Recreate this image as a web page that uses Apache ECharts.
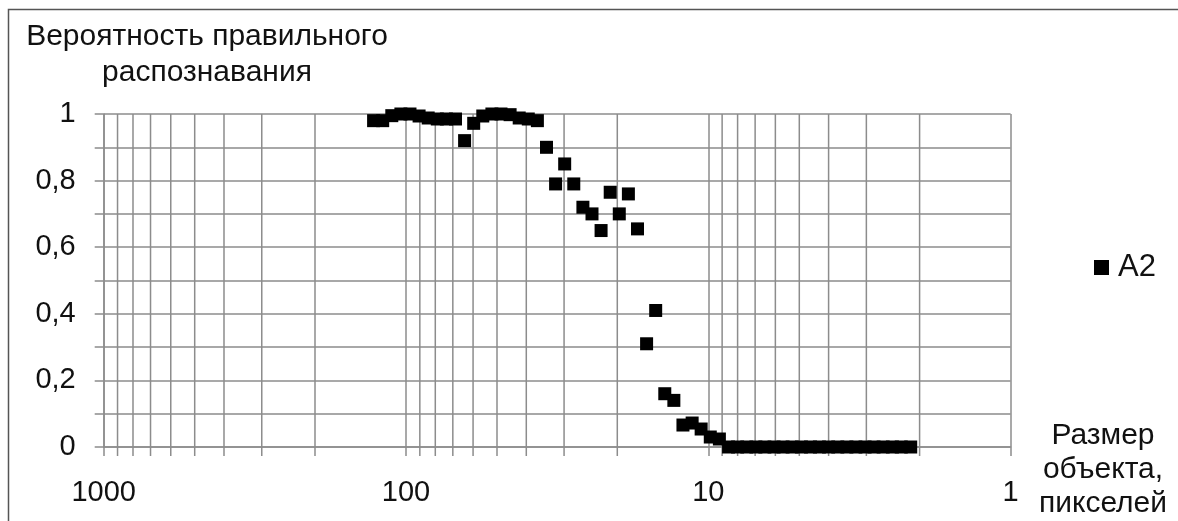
<!DOCTYPE html>
<html>
<head>
<meta charset="utf-8">
<script src="https://cdn.jsdelivr.net/npm/echarts@6/dist/echarts.min.js"></script>
<style>
html,body{margin:0;padding:0;background:#fff;}
#chart{width:1178px;height:521px;}
</style>
</head>
<body>
<div id="chart"></div>
<script>
// ---- data ----
const seriesName = 'A2';
const sizePx = [128, 119.43, 111.43, 103.97, 97.01, 90.51, 84.45, 78.79, 73.52, 68.59,
  64, 59.71, 55.72, 51.98, 48.5, 45.25, 42.22, 39.4, 36.76, 34.3,
  32, 29.86, 27.86, 25.99, 24.25, 22.63, 21.11, 19.7, 18.38, 17.15,
  16, 14.93, 13.93, 13, 12.13, 11.31, 10.56, 9.85, 9.19, 8.57,
  8, 7.46, 6.96, 6.5, 6.06, 5.66, 5.28, 4.92, 4.59, 4.29,
  4, 3.73, 3.48, 3.25, 3.03, 2.83, 2.64, 2.46, 2.3, 2.14];
const probability = [0.98, 0.98, 0.995, 1.0, 1.0, 0.994, 0.988, 0.985, 0.985, 0.985,
  0.92, 0.972, 0.994, 1.0, 1.0, 0.998, 0.988, 0.985, 0.98, 0.90,
  0.79, 0.85, 0.79, 0.72, 0.70, 0.65, 0.765, 0.70, 0.76, 0.655,
  0.31, 0.41, 0.16, 0.14, 0.066, 0.072, 0.054, 0.03, 0.024, 0,
  0, 0, 0, 0, 0, 0, 0, 0, 0, 0,
  0, 0, 0, 0, 0, 0, 0, 0, 0, 0];
const xMinorGrid = [2, 3, 4, 5, 6, 7, 8, 9, 20, 30, 40, 50, 60, 70, 80, 90, 200, 300, 400, 500, 600, 700, 800, 900];
const xTitle = 'Размер\nобъекта,\nпикселей';
const yTitle = 'Вероятность правильного\nраспознавания';

const FONT = '"Liberation Sans", Arial, sans-serif';
const GRID_COLOR = '#8c8c8c';
const TXT = '#111';

const chart = echarts.init(document.getElementById('chart'), null, {renderer: 'canvas'});
const scatterData = sizePx.map((s, i) => [s, probability[i]]);

chart.setOption({
  animation: false,
  backgroundColor: '#fff',
  grid: {left: 103.7, right: 167.4, top: 114, bottom: 74, containLabel: false, outerBoundsMode: 'none'},
  xAxis: {
    type: 'log', logBase: 10, min: 1, max: 1000, inverse: true,
    axisLine: {show: true, lineStyle: {color: GRID_COLOR, width: 1.5}},
    axisTick: {show: true, length: 9, inside: false, lineStyle: {color: GRID_COLOR, width: 1.5}},
    splitLine: {show: true, lineStyle: {color: GRID_COLOR, width: 1.5}},
    axisLabel: {fontFamily: FONT, fontSize: 29, color: TXT, margin: 31, showMinLabel: true, showMaxLabel: true,
      formatter: v => String(Math.round(v))}
  },
  yAxis: {
    type: 'value', min: 0, max: 1, interval: 0.2,
    axisLine: {show: true, lineStyle: {color: GRID_COLOR, width: 1.5}},
    axisTick: {show: true, length: 9, inside: false, lineStyle: {color: GRID_COLOR, width: 1.5}},
    minorTick: {show: true, splitNumber: 2, length: 9, lineStyle: {color: GRID_COLOR, width: 1.5}},
    splitLine: {show: true, lineStyle: {color: GRID_COLOR, width: 1.5}},
    minorSplitLine: {show: true, lineStyle: {color: GRID_COLOR, width: 1.5}},
    axisLabel: {fontFamily: FONT, fontSize: 29, color: TXT, margin: 28, padding: [4, 0, 0, 0],
      formatter: v => String(Math.round(v * 10) / 10).replace('.', ',')}
  },
  legend: {
    data: [seriesName], left: 1094, top: 252, icon: 'rect', itemWidth: 15, itemHeight: 15,
    padding: 0, textStyle: {fontFamily: FONT, fontSize: 31, color: TXT, padding: [0, 0, 0, 4]}
  },
  graphic: [
    {type: 'rect', silent: true, z: 100, shape: {x: 8.5, y: 9.5, width: 1400, height: 800},
      style: {fill: 'none', stroke: '#555', lineWidth: 1.5}},
    {type: 'text', silent: true, x: 207, y: 19, style: {text: yTitle, fontFamily: FONT, fontSize: 30,
      lineHeight: 36, fill: TXT, align: 'center', verticalAlign: 'top'}},
    {type: 'text', silent: true, x: 1103, y: 419, style: {text: xTitle, fontFamily: FONT, fontSize: 30,
      lineHeight: 34, fill: TXT, align: 'center', verticalAlign: 'top'}}
  ],
  series: [
    {
      type: 'custom', name: 'grid', silent: true, clip: false, z: 1,
      data: xMinorGrid.map(v => [v]),
      renderItem: (params, api) => {
        const top = api.coord([api.value(0), 1]);
        const bot = api.coord([api.value(0), 0]);
        return {type: 'line', shape: {x1: top[0], y1: top[1], x2: bot[0], y2: bot[1] + 9},
          style: {stroke: GRID_COLOR, lineWidth: 1.5}};
      }
    },
    {
      type: 'scatter', name: seriesName, symbol: 'rect', symbolSize: 13, z: 5,
      itemStyle: {color: '#000', opacity: 1}, data: scatterData
    }
  ]
});
</script>
</body>
</html>
